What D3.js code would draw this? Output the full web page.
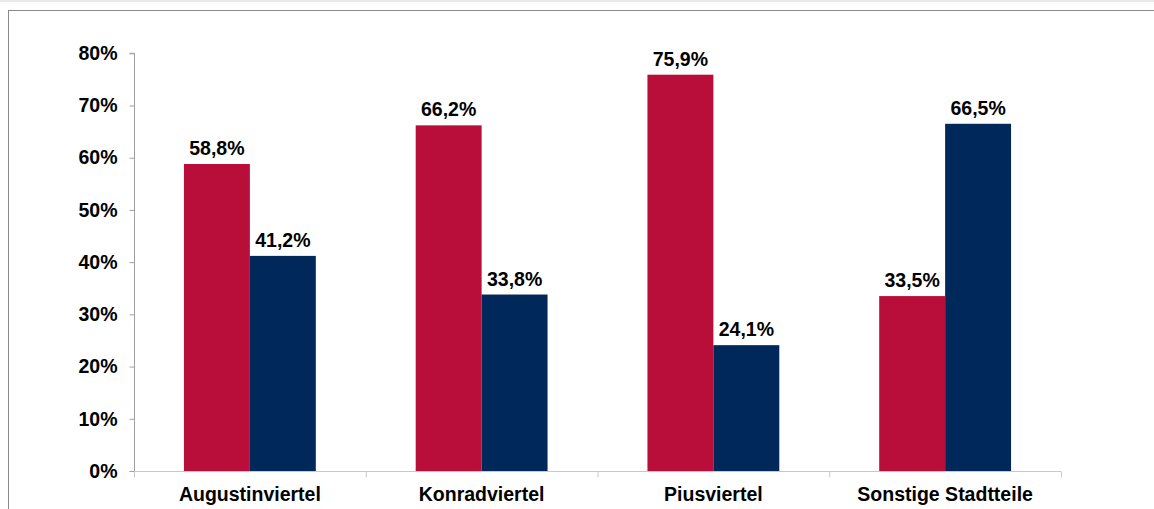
<!DOCTYPE html>
<html>
<head>
<meta charset="utf-8">
<script src="https://cdn.jsdelivr.net/npm/d3@7"></script>
<style>
  html, body { margin: 0; padding: 0; background: #fff; }
  svg { display: block; }
  text { font-family: "Liberation Sans", Arial, sans-serif; font-weight: bold; fill: #000; }
</style>
</head>
<body>
<svg id="chart" width="1154" height="509"></svg>
<script>
const categories = ["Augustinviertel", "Konradviertel", "Piusviertel", "Sonstige Stadtteile"];
const seriesRed = [58.8, 66.2, 75.9, 33.5];
const seriesBlue = [41.2, 33.8, 24.1, 66.5];
const yTicks = [0, 10, 20, 30, 40, 50, 60, 70, 80];
const seriesColors = ["#B90E3A", "#00285A"];

(function () {
const svg = d3.select("#chart");
const W = 1154, H = 509;
const FS = "19.5px";

// frame
svg.append("rect").attr("x", 0).attr("y", 0).attr("width", W).attr("height", 2).attr("fill", "#e9e9e9");
svg.append("rect").attr("x", 8.5).attr("y", 10.5).attr("width", W).attr("height", H)
  .attr("fill", "none").attr("stroke", "#8a8a8a").attr("stroke-width", 1);

const mLeft = 134, mRight = 1061, mTop = 53.3, mBottom = 471;
const x = d3.scaleBand().domain(categories).range([mLeft, mRight]).paddingInner(0).paddingOuter(0);
const y = d3.scaleLinear().domain([0, 80]).range([mBottom, mTop]);
const inner = d3.scaleBand().domain([0, 1]).range([0, x.bandwidth()]).paddingInner(0).paddingOuter(50 / 66);

// y axis
const yAxis = d3.axisLeft(y).tickValues(yTicks).tickSize(5).tickPadding(12)
  .tickFormat(d => d + "%");
const gy = svg.append("g").attr("transform", `translate(${mLeft + 0.5},0)`).call(yAxis);
gy.select(".domain").attr("stroke", "#a0a0a0").attr("d", `M-5,${y(80)}H0V${mBottom}`);
gy.selectAll(".tick line").attr("stroke", "#a0a0a0");
gy.selectAll(".tick text").style("font-size", FS).attr("fill", "#000");

// bars
const data = categories.map((c, i) => ({ c, vals: [seriesRed[i], seriesBlue[i]] }));
const groups = svg.append("g").selectAll("g").data(data).join("g")
  .attr("transform", d => `translate(${x(d.c)},0)`);
groups.selectAll("rect").data(d => d.vals.map((v, k) => ({ v, k }))).join("rect")
  .attr("x", d => inner(d.k))
  .attr("width", inner.bandwidth())
  .attr("y", d => y(d.v))
  .attr("height", d => y(0) - y(d.v))
  .attr("fill", d => seriesColors[d.k]);
groups.selectAll("text").data(d => d.vals.map((v, k) => ({ v, k }))).join("text")
  .attr("x", d => inner(d.k) + inner.bandwidth() / 2)
  .attr("y", d => y(d.v) - 9)
  .attr("text-anchor", "middle")
  .style("font-size", FS)
  .text(d => d3.format(".1f")(d.v).replace(".", ",") + "%");

// x axis
const xAxis = d3.axisBottom(x).tickSize(0).tickPadding(0).tickFormat("");
const gx = svg.append("g").attr("transform", `translate(0,${mBottom + 0.5})`).call(xAxis);
gx.select(".domain").attr("stroke", "#c8c8c8").attr("d", `M${mLeft},0H${mRight}`);
const bounds = categories.map(c => x(c)).concat([mRight]);
gx.selectAll("line.bt").data(bounds).join("line").attr("class", "bt")
  .attr("x1", d => d + 0.5).attr("x2", d => d + 0.5).attr("y1", 0).attr("y2", 6)
  .attr("stroke", "#c8c8c8");
svg.append("g").selectAll("text").data(categories).join("text")
  .attr("x", d => x(d) + x.bandwidth() / 2)
  .attr("y", 501)
  .attr("text-anchor", "middle")
  .style("font-size", FS)
  .text(d => d);
})();
</script>
</body>
</html>
